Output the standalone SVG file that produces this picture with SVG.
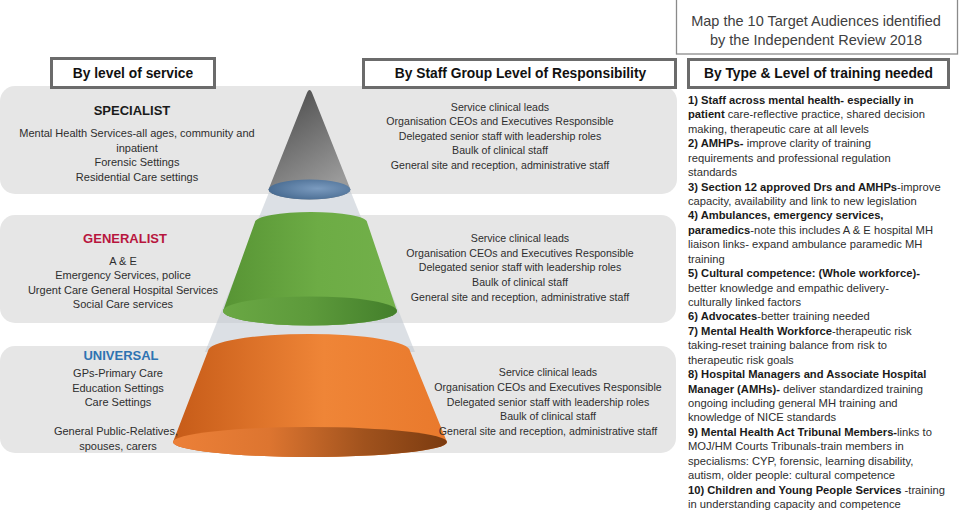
<svg xmlns="http://www.w3.org/2000/svg" width="961" height="519" viewBox="0 0 961 519">
<defs>
<style>
text{font-family:"Liberation Sans",Arial,sans-serif;fill:#2e2e2e}
.band{fill:#e6e6e6}
.hdr{fill:#ffffff;stroke:#6b6b6b;stroke-width:3}
.hdrt{font-size:13.8px;font-weight:bold;fill:#111;text-anchor:middle}
.lvl{font-size:13px;font-weight:bold;text-anchor:middle}
.lt{font-size:11px;text-anchor:middle}
.mt{font-size:10.6px;text-anchor:middle}
.rt{font-size:11.2px}
.rt tspan.b{font-weight:bold;fill:#1a1a1a}
.tt{font-size:14.5px;text-anchor:middle;fill:#404040}
</style>
<linearGradient id="gGrey" x1="0" y1="0" x2="0.5" y2="1">
<stop offset="0" stop-color="#454545"/><stop offset="1" stop-color="#9a9a9a"/>
</linearGradient>
<radialGradient id="gBlue" cx="0.6" cy="0.45" r="0.6">
<stop offset="0" stop-color="#7b9bbf"/><stop offset="1" stop-color="#4a6d93"/>
</radialGradient>
<linearGradient id="gGreen" x1="0" y1="0" x2="1" y2="0">
<stop offset="0" stop-color="#579434"/><stop offset="0.55" stop-color="#6dac45"/><stop offset="1" stop-color="#72b04a"/>
</linearGradient>
<linearGradient id="gGreenB" x1="0" y1="0" x2="1" y2="0">
<stop offset="0" stop-color="#6aa844"/><stop offset="0.5" stop-color="#5d9a3b"/><stop offset="1" stop-color="#437f2b"/>
</linearGradient>
<linearGradient id="gOrange" x1="0" y1="0" x2="1" y2="0">
<stop offset="0" stop-color="#c65b18"/><stop offset="0.55" stop-color="#ef8537"/><stop offset="1" stop-color="#e9792c"/>
</linearGradient>
<linearGradient id="gOrangeB" x1="0" y1="0" x2="1" y2="0">
<stop offset="0" stop-color="#ec8038"/><stop offset="0.35" stop-color="#dd7530"/><stop offset="0.7" stop-color="#a0521d"/><stop offset="1" stop-color="#7b3b10"/>
</linearGradient>
</defs>

<rect width="961" height="519" fill="#ffffff"/>

<g id="bands">
<rect class="band" x="0" y="86" width="677" height="108" rx="15"/>
<rect class="band" x="0" y="215" width="676" height="108" rx="15"/>
<rect class="band" x="0" y="346" width="676" height="107" rx="15"/>
</g>

<g id="pyramid">
<polygon points="310,90 205,352 415,352" fill="#bfc7d0" opacity="0.55"/>
<path d="M306.5 94 Q309.5 86 312.5 94 L350.5 189.5 A41 10 0 0 1 268.5 189.5 Z" fill="url(#gGrey)"/>
<ellipse cx="309.5" cy="189.5" rx="41" ry="10" fill="url(#gBlue)"/>
<path d="M255 222 A56 10 0 0 1 367 222 L397 311 A87 14.5 0 0 1 223 311 Z" fill="url(#gGreen)"/>
<ellipse cx="310" cy="311" rx="87" ry="14.5" fill="url(#gGreenB)"/>
<path d="M208 351 A101 17 0 0 1 410 351 L447 442 A137 15 0 0 1 173 442 Z" fill="url(#gOrange)"/>
<ellipse cx="310" cy="442" rx="137" ry="15" fill="url(#gOrangeB)"/>
</g>

<g id="title-box">
<rect x="676.5" y="-1" width="281" height="55" fill="#ffffff" stroke="#8a8a8a" stroke-width="1.3"/>
<text class="tt" x="816" y="26">Map the 10 Target Audiences identified</text>
<text class="tt" x="816" y="44.5">by the Independent Review 2018</text>
</g>

<g id="header-service">
<rect class="hdr" x="51.5" y="58.5" width="163" height="29"/>
<text class="hdrt" x="133" y="78.3">By level of service</text>
</g>
<g id="header-staff">
<rect class="hdr" x="363.5" y="59.5" width="312" height="28"/>
<text class="hdrt" x="520.5" y="78.3">By Staff Group Level of Responsibility</text>
</g>
<g id="header-training">
<rect class="hdr" x="688.5" y="59.5" width="260" height="28"/>
<text class="hdrt" x="818.5" y="78.3">By Type &amp; Level of training needed</text>
</g>

<g id="specialist">
<text class="lvl" x="132" y="114.7" style="fill:#1a1a1a">SPECIALIST</text>
<text class="lt" x="137" y="137">Mental Health Services-all ages, community and</text>
<text class="lt" x="137" y="151.5">inpatient</text>
<text class="lt" x="137" y="166">Forensic Settings</text>
<text class="lt" x="137" y="180.5">Residential Care settings</text>
</g>

<g id="generalist">
<text class="lvl" x="125" y="243" style="fill:#b8163e">GENERALIST</text>
<text class="lt" x="123" y="264.7">A &amp; E</text>
<text class="lt" x="123" y="279.3">Emergency Services, police</text>
<text class="lt" x="123" y="293.7">Urgent Care General Hospital Services</text>
<text class="lt" x="123" y="307.7">Social Care services</text>
</g>

<g id="universal">
<text class="lvl" x="121" y="359.7" style="fill:#2e73b2">UNIVERSAL</text>
<text class="lt" x="118" y="377">GPs-Primary Care</text>
<text class="lt" x="118" y="392">Education Settings</text>
<text class="lt" x="118" y="406.3">Care Settings</text>
<text class="lt" x="116" y="435.4">General Public-Relatives,</text>
<text class="lt" x="118" y="449.7">spouses, carers</text>
</g>

<g id="staff-specialist">
<text class="mt" x="500" y="110.7">Service clinical leads</text>
<text class="mt" x="500" y="125.2">Organisation CEOs and Executives Responsible</text>
<text class="mt" x="500" y="139.7">Delegated senior staff with leadership roles</text>
<text class="mt" x="500" y="154.2">Baulk of clinical staff</text>
<text class="mt" x="500" y="168.7">General site and reception, administrative staff</text>
</g>

<g id="staff-generalist">
<text class="mt" x="520" y="242">Service clinical leads</text>
<text class="mt" x="520" y="256.7">Organisation CEOs and Executives Responsible</text>
<text class="mt" x="520" y="271.3">Delegated senior staff with leadership roles</text>
<text class="mt" x="520" y="286">Baulk of clinical staff</text>
<text class="mt" x="520" y="300.7">General site and reception, administrative staff</text>
</g>

<g id="staff-universal">
<text class="mt" x="548" y="376.4">Service clinical leads</text>
<text class="mt" x="548" y="391">Organisation CEOs and Executives Responsible</text>
<text class="mt" x="548" y="405.6">Delegated senior staff with leadership roles</text>
<text class="mt" x="548" y="420.2">Baulk of clinical staff</text>
<text class="mt" x="548" y="434.8">General site and reception, administrative staff</text>
</g>

<g id="training-list">
<text class="rt" x="688" y="103.9"><tspan class="b">1) Staff across mental health- especially in</tspan></text>
<text class="rt" x="688" y="118.3"><tspan class="b">patient</tspan> care-reflective practice, shared decision</text>
<text class="rt" x="688" y="132.8">making, therapeutic care at all levels</text>
<text class="rt" x="688" y="147.2"><tspan class="b">2) AMHPs-</tspan> improve clarity of training</text>
<text class="rt" x="688" y="161.6">requirements and professional regulation</text>
<text class="rt" x="688" y="176.1">standards</text>
<text class="rt" x="688" y="190.5"><tspan class="b">3) Section 12 approved Drs and AMHPs</tspan>-improve</text>
<text class="rt" x="688" y="204.9">capacity, availability and link to new legislation</text>
<text class="rt" x="688" y="219.3"><tspan class="b">4) Ambulances, emergency services,</tspan></text>
<text class="rt" x="688" y="233.8"><tspan class="b">paramedics</tspan>-note this includes A &amp; E hospital MH</text>
<text class="rt" x="688" y="248.2">liaison links- expand ambulance paramedic MH</text>
<text class="rt" x="688" y="262.6">training</text>
<text class="rt" x="688" y="277.1"><tspan class="b">5) Cultural competence: (Whole workforce)-</tspan></text>
<text class="rt" x="688" y="291.5">better knowledge and empathic delivery-</text>
<text class="rt" x="688" y="305.9">culturally linked factors</text>
<text class="rt" x="688" y="320.4"><tspan class="b">6) Advocates</tspan>-better training needed</text>
<text class="rt" x="688" y="334.8"><tspan class="b">7) Mental Health Workforce</tspan>-therapeutic risk</text>
<text class="rt" x="688" y="349.2">taking-reset training balance from risk to</text>
<text class="rt" x="688" y="363.6">therapeutic risk goals</text>
<text class="rt" x="688" y="378.1"><tspan class="b">8) Hospital Managers and Associate Hospital</tspan></text>
<text class="rt" x="688" y="392.5"><tspan class="b">Manager (AMHs)-</tspan> deliver standardized training</text>
<text class="rt" x="688" y="406.9">ongoing including general MH training and</text>
<text class="rt" x="688" y="421.4">knowledge of NICE standards</text>
<text class="rt" x="688" y="435.8"><tspan class="b">9) Mental Health Act Tribunal Members-</tspan>links to</text>
<text class="rt" x="688" y="450.2">MOJ/HM Courts Tribunals-train members in</text>
<text class="rt" x="688" y="464.7">specialisms: CYP, forensic, learning disability,</text>
<text class="rt" x="688" y="479.1">autism, older people: cultural competence</text>
<text class="rt" x="688" y="493.5"><tspan class="b">10) Children and Young People Services</tspan> -training</text>
<text class="rt" x="688" y="507.9">in understanding capacity and competence</text>
</g>

<g id="connectors"></g>
</svg>
